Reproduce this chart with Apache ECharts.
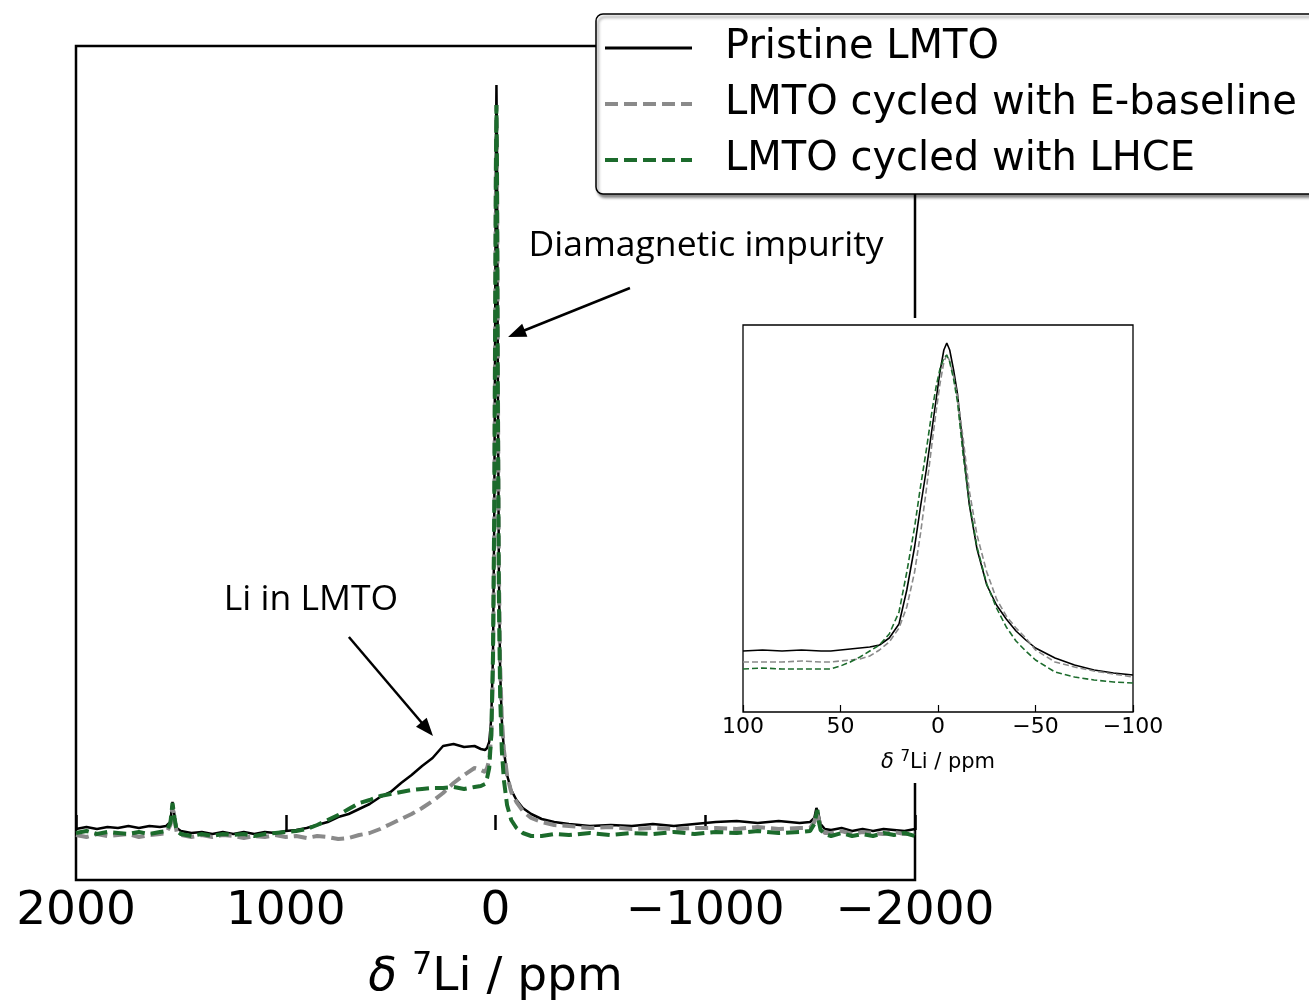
<!DOCTYPE html>
<html lang="en">
<head>
<meta charset="UTF-8">
<title>7Li NMR LMTO</title>
<script src="https://cdn.jsdelivr.net/npm/echarts@6/dist/echarts.min.js"></script>
<style>
    html, body { margin: 0; padding: 0; background: #fff; }
    #main { width: 1309px; height: 1005px; }
</style>
</head>
<body>
<div id="main"></div>
<script>
    // series names
    var names = ['Pristine LMTO', 'LMTO cycled with E-baseline', 'LMTO cycled with LHCE'];

    // main spectrum, shift in ppm
    var shiftMain = [2000, 1950, 1900, 1850, 1800, 1750, 1700, 1650, 1600, 1570,
        1550, 1540, 1535, 1530, 1520, 1500, 1450, 1400, 1350, 1300,
        1250, 1200, 1150, 1100, 1050, 1000, 950, 900, 850, 800,
        750, 700, 650, 600, 550, 500, 450, 400, 350, 300,
        250, 200, 150, 100, 70, 50, 40, 30, 20, 12,
        6, 2, -2, -4.5, -7, -11, -16, -22, -30, -40,
        -55, -75, -100, -130, -170, -220, -280, -350, -450, -550,
        -650, -750, -850, -950, -1050, -1150, -1250, -1350, -1450, -1500,
        -1520, -1530, -1535, -1540, -1550, -1570, -1600, -1650, -1700, -1750,
        -1800, -1850, -1900, -1950, -2000];
    var pristineMain = [1, 3, 1, 3, 2, 4, 2, 4, 3, 4,
        8, 28, 30, 14, 2, -1, -3, -2, -4, -2,
        -4, -2, -4, -2, -3, -1, 0, 2, 5, 8,
        13, 16, 21, 26, 33, 38, 47, 55, 64, 72,
        84, 86, 83, 84, 81, 80, 82, 88, 112, 175,
        310, 490, 680, 745, 690, 470, 260, 160, 110, 80,
        55, 40, 30, 22, 16, 11, 8, 6, 4, 5,
        4, 6, 4, 6, 8, 9, 7, 9, 7, 8,
        12, 22, 24, 16, 6, 1, 0, 2, -1, 1,
        -1, 1, 0, -1, 1];
    var baselineMain = [-5, -7, -4, -6, -5, -4, -7, -5, -4, -3,
        5, 24, 26, 10, -2, -5, -7, -5, -7, -5,
        -6, -8, -6, -7, -5, -7, -6, -8, -6, -7,
        -9, -8, -5, -3, 1, 6, 11, 16, 22, 29,
        37, 47, 55, 62, 60, 58, 62, 70, 95, 160,
        300, 480, 660, 725, 672, 470, 265, 165, 112, 80,
        55, 38, 28, 19, 12, 8, 5, 4, 2, 3,
        1, 2, 1, 2, 2, 1, 3, 1, 2, 2,
        8, 18, 20, 12, 2, -3, -3, -1, -4, -2,
        -3, -4, -2, -4, -3];
    var lhceMain = [-3, -1, -4, -2, -3, -4, -2, -4, -2, -1,
        7, 27, 29, 12, -1, -4, -6, -4, -6, -4,
        -5, -4, -6, -4, -3, -2, -1, 1, 5, 10,
        15, 21, 27, 30, 34, 36, 38, 40, 41, 42,
        42, 43, 41, 43, 44, 46, 52, 62, 95, 175,
        320, 500, 670, 725, 665, 440, 235, 135, 80, 50,
        25, 10, 2, -3, -6, -6, -4, -5, -3, -5,
        -3, -4, -2, -4, -2, -3, -1, -3, -2, -1,
        6, 16, 20, 10, 0, -4, -6, -3, -6, -4,
        -6, -3, -5, -3, -6];

    // inset, zoom on the central peak
    var shiftInset = [100, 90, 80, 70, 60, 55, 50, 45, 40, 35,
        30, 25, 20, 16, 12, 9, 6, 3, 1, -1,
        -3, -4.5, -6, -8, -10, -13, -16, -20, -25, -30,
        -35, -40, -45, -50, -60, -70, -80, -90, -100];
    var pristineInset = [61, 62, 61, 62, 61, 61, 62, 63, 64, 65,
        67, 74, 88, 122, 165, 205, 242, 284, 312, 340,
        362, 369, 362, 342, 318, 262, 208, 163, 127, 107,
        93, 81, 72, 64, 54, 47, 42, 39, 37];
    var baselineInset = [50, 50, 50, 51, 50, 50, 51, 52, 53, 56,
        62, 70, 84, 105, 140, 178, 222, 270, 300, 328,
        350, 357, 351, 336, 315, 272, 222, 177, 140, 113,
        96, 84, 74, 62, 50, 45, 41, 38, 35];
    var lhceInset = [43, 44, 43, 43, 43, 43, 46, 50, 55, 61,
        67, 78, 100, 140, 185, 225, 262, 302, 325, 343,
        354, 357, 350, 333, 310, 255, 210, 165, 128, 104,
        85, 71, 61, 52, 40, 35, 32, 30, 29];

    var colors = ['#000000', '#8a8a8a', '#1c6b2c'];
    var mainStyles = [
        {width: 2.5, type: 'solid'},
        {width: 4, type: [13, 6]},
        {width: 4, type: [13, 6]}
    ];

    function pairs(xs, ys) {
        return xs.map(function (x, i) { return [x, ys[i]]; });
    }
    function minus(v) {
        return String(v).replace('-', '\u2212');
    }

    var chart = echarts.init(document.getElementById('main'));

    var mainSets = [pristineMain, baselineMain, lhceMain];
    var insetSets = [pristineInset, baselineInset, lhceInset];
    var series = [];
    var legendData = [];
    for (var i = 0; i < 3; i++) {
        series.push({
            name: names[i], type: 'line', xAxisIndex: 0, yAxisIndex: 0,
            data: pairs(shiftMain, mainSets[i]), symbol: 'none', z: 2 + i,
            itemStyle: {color: colors[i]},
            lineStyle: {color: colors[i], width: mainStyles[i].width, type: mainStyles[i].type}
        });
        legendData.push({
            name: names[i],
            itemStyle: {opacity: 0},
            lineStyle: {color: colors[i], width: i == 0 ? 3 : 4, type: mainStyles[i].type}
        });
    }
    for (var j = 0; j < 3; j++) {
        series.push({
            name: names[j], type: 'line', xAxisIndex: 1, yAxisIndex: 1,
            data: pairs(shiftInset, insetSets[j]), symbol: 'none', zlevel: 1, z: 4 + j,
            itemStyle: {color: colors[j]},
            lineStyle: j == 0 ? {color: colors[j], width: 1.6}
                : {color: colors[j], width: 1.6, type: [6, 3]}
        });
    }

    var axisName = '{i|\u03b4} {s|7}Li / ppm';

    var option = {
        animation: false,
        backgroundColor: '#fff',
        legend: {
            data: legendData, orient: 'vertical', left: 596, top: 14,
            itemWidth: 87, itemHeight: 14, itemGap: 12,
            padding: [12, 30, 12, 7],
            backgroundColor: '#fff', borderColor: '#000', borderWidth: 1.5, borderRadius: 7,
            shadowColor: 'rgba(0,0,0,0.45)', shadowBlur: 3, shadowOffsetX: 2, shadowOffsetY: 3,
            textStyle: {fontFamily: 'DejaVu Sans', fontSize: 40, color: '#000', lineHeight: 44, padding: [0, 0, 0, 28]},
            selectedMode: false, z: 10
        },
        grid: [
            {left: 76, top: 46, width: 839, height: 834, show: true, borderColor: '#000', borderWidth: 2.5,
                containLabel: false, outerBoundsMode: 'none'},
            {left: 743, top: 325, width: 390, height: 387, show: true, borderColor: '#000', borderWidth: 1.3,
                containLabel: false, outerBoundsMode: 'none', zlevel: 1, z: 2}
        ],
        xAxis: [
            {
                type: 'value', gridIndex: 0, min: -2000, max: 2000, interval: 1000, inverse: true,
                axisLine: {show: false},
                axisTick: {inside: true, length: 15, lineStyle: {color: '#000', width: 2.5}},
                axisLabel: {fontFamily: 'DejaVu Sans', fontSize: 47, color: '#000', margin: 8, formatter: minus},
                splitLine: {show: false},
                name: axisName, nameLocation: 'middle', nameGap: 70,
                nameTextStyle: {
                    fontFamily: 'DejaVu Sans', fontSize: 47, color: '#000', lineHeight: 56,
                    rich: {
                        i: {fontFamily: 'DejaVu Sans', fontSize: 47, fontStyle: 'italic', color: '#000', lineHeight: 56},
                        s: {fontFamily: 'DejaVu Sans', fontSize: 32, color: '#000', verticalAlign: 'top', lineHeight: 40}
                    }
                }
            },
            {
                type: 'value', gridIndex: 1, min: -100, max: 100, interval: 50, inverse: true, zlevel: 1, z: 3,
                axisLine: {show: false},
                axisTick: {inside: true, length: 7, lineStyle: {color: '#000', width: 1.2}},
                axisLabel: {fontFamily: 'DejaVu Sans', fontSize: 22, color: '#000', margin: 4, formatter: minus},
                splitLine: {show: false},
                name: axisName, nameLocation: 'middle', nameGap: 38,
                nameTextStyle: {
                    fontFamily: 'DejaVu Sans', fontSize: 21, color: '#000', lineHeight: 26,
                    rich: {
                        i: {fontFamily: 'DejaVu Sans', fontSize: 21, fontStyle: 'italic', color: '#000', lineHeight: 26},
                        s: {fontFamily: 'DejaVu Sans', fontSize: 15, color: '#000', verticalAlign: 'top', lineHeight: 19}
                    }
                }
            }
        ],
        yAxis: [
            {type: 'value', gridIndex: 0, min: -50, max: 784, show: false},
            {type: 'value', gridIndex: 1, min: 0, max: 387, show: false}
        ],
        series: series
    };
    chart.setOption(option);

    // annotations, placed in data coordinates of the main plot
    var notes = [
        {text: 'Diamagnetic impurity', at: [-1004, 584], from: [-641, 542], to: [-60, 493]},
        {text: 'Li in LMTO', at: [880, 230], from: [699, 193], to: [298, 94]}
    ];

    function arrow(p0, p1) {
        var dx = p1[0] - p0[0], dy = p1[1] - p0[1];
        var len = Math.sqrt(dx * dx + dy * dy);
        var ux = dx / len, uy = dy / len, hl = 18, hw = 7;
        var bx = p1[0] - ux * hl, by = p1[1] - uy * hl;
        return [
            {type: 'line', z: 20, shape: {x1: p0[0], y1: p0[1], x2: bx + ux * 2, y2: by + uy * 2},
                style: {stroke: '#000', lineWidth: 2.5}},
            {type: 'polygon', z: 20, shape: {points: [[p1[0], p1[1]], [bx - uy * hw, by + ux * hw], [bx + uy * hw, by - ux * hw]]},
                style: {fill: '#000'}}
        ];
    }

    // white patch behind the inset hides part of the main frame
    var elements = [
        {type: 'rect', zlevel: 1, z: 0, shape: {x: 700, y: 318, width: 475, height: 465}, style: {fill: '#fff'}}
    ];
    notes.forEach(function (n) {
        var c = chart.convertToPixel({gridIndex: 0}, n.at);
        elements.push({
            type: 'text', z: 20, x: c[0], y: c[1],
            style: {text: n.text, fontFamily: 'Open Sans', fontSize: 35.5, fill: '#000', align: 'center', verticalAlign: 'middle'}
        });
        var a = arrow(chart.convertToPixel({gridIndex: 0}, n.from), chart.convertToPixel({gridIndex: 0}, n.to));
        elements = elements.concat(a);
    });
    chart.setOption({graphic: {elements: elements}});
</script>
</body>
</html>
